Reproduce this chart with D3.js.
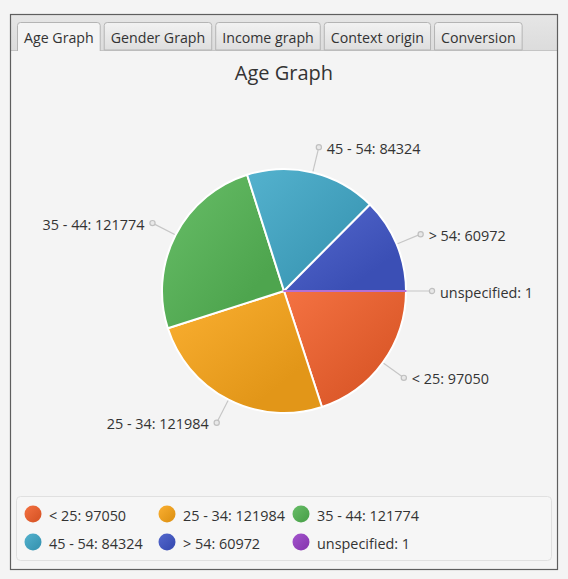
<!DOCTYPE html>
<html>
<head>
<meta charset="utf-8">
<script src="https://cdn.jsdelivr.net/npm/d3@7"></script>
<style>
  html, body { margin: 0; padding: 0; background: #f4f4f4; }
  svg { display: block; }
  text { font-family: "Open Sans", "Noto Sans", sans-serif; fill: #333333; }
</style>
</head>
<body>
<svg id="chart" width="568" height="579"></svg>
<script>
// ---- data ----
const tabs = ["Age Graph", "Gender Graph", "Income graph", "Context origin", "Conversion"];
const chartTitle = "Age Graph";
const categories = ["< 25", "25 - 34", "35 - 44", "45 - 54", "> 54", "unspecified"];
const values = [97050, 121984, 121774, 84324, 60972, 1];
const colors = ["#f3622d", "#fba71b", "#57b757", "#41a9c9", "#4258c9", "#9a42c8"];

const W = 568, H = 579;
const svg = d3.select("#chart");
const defs = svg.append("defs");

// ---- frame ----
const frame = { x: 10, y: 14, w: 548, h: 556 };
const headerH = 36;
svg.append("rect").attr("x", frame.x).attr("y", frame.y).attr("width", frame.w).attr("height", frame.h)
  .attr("fill", "#f4f4f4");
const hg = defs.append("linearGradient").attr("id", "hdr").attr("x1", 0).attr("y1", 0).attr("x2", 0).attr("y2", 1);
hg.append("stop").attr("offset", 0).attr("stop-color", "#e6e6e6");
hg.append("stop").attr("offset", 1).attr("stop-color", "#dcdcdc");
svg.append("rect").attr("x", frame.x).attr("y", frame.y).attr("width", frame.w).attr("height", headerH)
  .attr("fill", "url(#hdr)");
svg.append("line").attr("x1", frame.x).attr("x2", frame.x + frame.w)
  .attr("y1", frame.y + headerH + 0.5).attr("y2", frame.y + headerH + 0.5)
  .attr("stroke", "#c4c4c4");

// ---- tabs ----
const tg = defs.append("linearGradient").attr("id", "tabg").attr("x1", 0).attr("y1", 0).attr("x2", 0).attr("y2", 1);
tg.append("stop").attr("offset", 0).attr("stop-color", "#f2f2f2");
tg.append("stop").attr("offset", 1).attr("stop-color", "#dedede");
const tabFont = 14.2, tabPad = 7, tabGap = 3, tabTop = 22, tabBottom = frame.y + headerH;
let tx = 17;
const measure = svg.append("text").attr("font-size", tabFont).attr("opacity", 0);
tabs.forEach((t, i) => {
  measure.text(t);
  const tw = measure.node().getComputedTextLength();
  const w = tw + tabPad * 2;
  const sel = i === 0;
  const r = 3;
  const x0 = tx + 0.5, x1 = tx + w - 0.5, y0 = tabTop + 0.5, y1 = tabBottom + (sel ? 1 : 0);
  const p = `M${x0},${y1} L${x0},${y0 + r} Q${x0},${y0} ${x0 + r},${y0} L${x1 - r},${y0} Q${x1},${y0} ${x1},${y0 + r} L${x1},${y1}` + (sel ? "" : " Z");
  svg.append("path").attr("d", p)
    .attr("fill", sel ? "#f4f4f4" : "url(#tabg)")
    .attr("stroke", "#b4b4b4").attr("stroke-width", 1);
  svg.append("text").attr("x", tx + tabPad).attr("y", (tabTop + tabBottom) / 2 + 1)
    .attr("dominant-baseline", "central").attr("font-size", tabFont).text(t);
  tx += w + tabGap;
});
measure.remove();

// frame border on top
svg.append("rect").attr("x", frame.x + 0.5).attr("y", frame.y + 0.5).attr("width", frame.w - 1).attr("height", frame.h - 1)
  .attr("fill", "none").attr("stroke", "#5e5e5e").attr("stroke-width", 1.2);

// ---- title ----
svg.append("text").attr("x", 284).attr("y", 72).attr("text-anchor", "middle")
  .attr("dominant-baseline", "central").attr("font-size", 20).text(chartTitle);

// ---- pie ----
const cx = 284, cy = 291, R = 122, lineEnd = 148;
const data = categories.map((c, i) => ({ name: c, value: values[i], color: colors[i] }));
// JavaFX: start at 3 o'clock, clockwise
const pie = d3.pie().value(d => d.value).sort(null)
  .startAngle(Math.PI / 2).endAngle(Math.PI / 2 + 2 * Math.PI);
const arcs = pie(data);
const arc = d3.arc().innerRadius(0).outerRadius(R);

data.forEach((d, i) => {
  const g = defs.append("linearGradient").attr("id", "sg" + i)
    .attr("x1", 0).attr("y1", 0).attr("x2", 1).attr("y2", 1);
  g.append("stop").attr("offset", 0).attr("stop-color", d3.interpolateRgb(d.color, "#ffffff")(0.1));
  g.append("stop").attr("offset", 0.75).attr("stop-color", d3.interpolateRgb(d.color, "#000000")(0.1));
});

const pg = svg.append("g").attr("transform", `translate(${cx},${cy})`);
pg.selectAll("path.slice").data(arcs).join("path")
  .attr("class", "slice")
  .attr("d", arc)
  .attr("fill", (d, i) => `url(#sg${i})`)
  .attr("stroke", (d) => (d.endAngle - d.startAngle) < 0.01 ? d.data.color : "#ffffff")
  .attr("stroke-width", (d) => (d.endAngle - d.startAngle) < 0.01 ? 1.6 : 2)
  .attr("stroke-linejoin", "round");

// labels
arcs.forEach((a) => {
  const mid = (a.startAngle + a.endAngle) / 2; // d3 angle: 0 at 12 o'clock, clockwise
  const sx = Math.sin(mid), sy = -Math.cos(mid);
  const p0 = [sx * (R + 1), sy * (R + 1)];
  const p1 = [sx * lineEnd, sy * lineEnd];
  pg.append("line").attr("x1", p0[0]).attr("y1", p0[1]).attr("x2", p1[0]).attr("y2", p1[1])
    .attr("stroke", "#c6c6c6").attr("stroke-width", 1.2);
  pg.append("circle").attr("cx", p1[0]).attr("cy", p1[1]).attr("r", 2.6)
    .attr("fill", "#e8e8e8").attr("stroke", "#c0c0c0").attr("stroke-width", 1.2);
  const right = sx >= 0;
  pg.append("text").attr("x", p1[0] + (right ? 8 : -8)).attr("y", p1[1] + 1)
    .attr("text-anchor", right ? "start" : "end").attr("dominant-baseline", "central")
    .attr("font-size", 14.4).text(`${a.data.name}: ${a.data.value}`);
});

// ---- legend ----
const lg = { x: 16, y: 496, w: 536, h: 65 };
svg.append("rect").attr("x", lg.x + 0.5).attr("y", lg.y + 0.5).attr("width", lg.w - 1).attr("height", lg.h - 1)
  .attr("rx", 4).attr("fill", "#f6f6f6").attr("stroke", "#e0e0e0");
const colW = 134, rowH = 28, perRow = 3;
data.forEach((d, i) => {
  const col = i % perRow, row = Math.floor(i / perRow);
  const x = 33 + col * colW, y = 514 + row * rowH;
  svg.append("circle").attr("cx", x).attr("cy", y).attr("r", 8.5).attr("fill", `url(#sg${i})`);
  svg.append("text").attr("x", x + 16).attr("y", y + 1).attr("dominant-baseline", "central")
    .attr("font-size", 14.4).text(`${d.name}: ${d.value}`);
});
</script>
</body>
</html>
